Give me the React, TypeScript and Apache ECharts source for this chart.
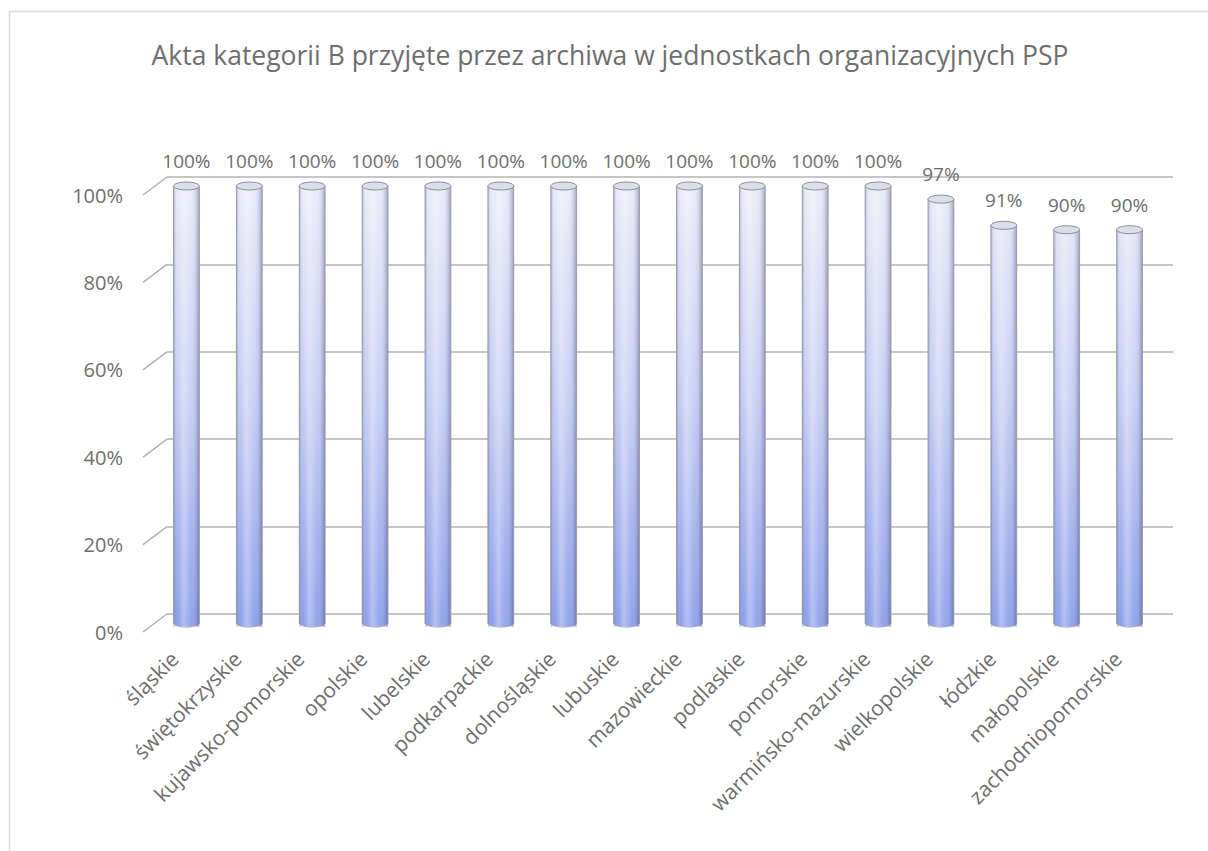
import React, { useEffect, useRef } from "react";
import * as echarts from "echarts";

const categories = [
  "śląskie",
  "świętokrzyskie",
  "kujawsko-pomorskie",
  "opolskie",
  "lubelskie",
  "podkarpackie",
  "dolnośląskie",
  "lubuskie",
  "mazowieckie",
  "podlaskie",
  "pomorskie",
  "warmińsko-mazurskie",
  "wielkopolskie",
  "łódzkie",
  "małopolskie",
  "zachodniopomorskie",
];
const values = [100, 100, 100, 100, 100, 100, 100, 100, 100, 100, 100, 100, 97, 91, 90, 90];
const yTicks = [0, 20, 40, 60, 80, 100];
const titleText = "Akta kategorii B przyjęte przez archiwa w jednostkach organizacyjnych PSP";

const FONT = "'Open Sans', sans-serif";
const TXT = "#6e6e6e";

const BACK = { left: 167, top: 177, width: 1006, height: 437 };
const MID = { left: 155, top: 186, width: 1006, height: 437 };
const FRONT = { left: 143, top: 195, width: 1006, height: 437 };

export default function App() {
  const ref = useRef<HTMLDivElement>(null);
  useEffect(() => {
    if (!ref.current) return;
    const chart = echarts.init(ref.current, null, { renderer: "svg" });
    const yAx = (idx: number, extra: any) => ({
      type: "value",
      gridIndex: idx,
      min: 0,
      max: 100,
      interval: 20,
      axisLine: { show: false },
      axisTick: { show: false },
      axisLabel: { show: false },
      splitLine: { show: false },
      ...extra,
    });
    const xAx = (idx: number, extra: any) => ({
      type: "category",
      gridIndex: idx,
      data: categories,
      axisLine: { show: false },
      axisTick: { show: false },
      axisLabel: { show: false },
      splitLine: { show: false },
      ...extra,
    });
    const bodyGrad = () =>
      new echarts.graphic.LinearGradient(
        0,
        MID.top,
        0,
        MID.top + MID.height,
        [
          { offset: 0, color: "#ebeaf8" },
          { offset: 0.5, color: "#c4ccf3" },
          { offset: 1, color: "#8b9eea" },
        ],
        true
      );
    const shade = () =>
      new echarts.graphic.LinearGradient(0, 0, 1, 0, [
        { offset: 0, color: "rgba(70,70,110,0.35)" },
        { offset: 0.15, color: "rgba(255,255,255,0.0)" },
        { offset: 0.4, color: "rgba(255,255,255,0.35)" },
        { offset: 0.7, color: "rgba(255,255,255,0.05)" },
        { offset: 1, color: "rgba(50,50,100,0.4)" },
      ]);

    chart.setOption({
      animation: false,
      title: {
        text: titleText,
        left: 605,
        textAlign: "center",
        top: 36,
        textStyle: { fontFamily: FONT, fontSize: 26.5, fontWeight: "normal", color: TXT },
      },
      grid: [
        { ...BACK, containLabel: false },
        { ...MID, containLabel: false },
        { ...FRONT, containLabel: false },
      ],
      xAxis: [
        xAx(0, {}),
        xAx(1, {}),
        xAx(2, {
          axisLabel: {
            show: true,
            interval: 0,
            rotate: 45,
            margin: 23,
            color: TXT,
            fontFamily: FONT,
            fontSize: 21,
          },
        }),
      ],
      yAxis: [
        yAx(0, { splitLine: { show: true, lineStyle: { color: "#b3b3b3", width: 1.5 } } }),
        yAx(1, {}),
        yAx(2, {
          axisLabel: {
            show: true,
            margin: 20,
            color: TXT,
            fontFamily: FONT,
            fontSize: 20,
            formatter: "{value}%",
          },
        }),
      ],
      series: [
        {
          type: "custom",
          xAxisIndex: 1,
          yAxisIndex: 1,
          data: values.map((v, i) => [i, v]),
          renderItem: (params: any, api: any) => {
            const i = api.value(0);
            const v = api.value(1);
            const top = api.coord([i, v]);
            const base = api.coord([i, 0]);
            const bw = api.size([1, 0])[0] * 0.41;
            const cx = top[0];
            const rx = bw / 2;
            const ry = 4;
            return {
              type: "group",
              children: [
                {
                  type: "ellipse",
                  shape: { cx, cy: base[1], rx, ry },
                  style: { fill: bodyGrad(), stroke: "#9aa0c0", lineWidth: 1 },
                },
                {
                  type: "rect",
                  shape: { x: cx - rx, y: top[1], width: bw, height: base[1] - top[1] },
                  style: { fill: bodyGrad() },
                },
                {
                  type: "rect",
                  shape: { x: cx - rx, y: top[1], width: bw, height: base[1] - top[1] + ry },
                  style: { fill: shade() },
                },
                {
                  type: "line",
                  shape: { x1: cx - rx, y1: top[1], x2: cx - rx, y2: base[1] },
                  style: { stroke: "#9a9cab", lineWidth: 1 },
                },
                {
                  type: "line",
                  shape: { x1: cx + rx, y1: top[1], x2: cx + rx, y2: base[1] },
                  style: { stroke: "#9a9cab", lineWidth: 1 },
                },
                {
                  type: "ellipse",
                  shape: { cx, cy: top[1], rx, ry },
                  style: { fill: "#dcdeee", stroke: "#8c8c8c", lineWidth: 1 },
                },
                {
                  type: "text",
                  x: cx,
                  y: top[1] - 25,
                  style: {
                    text: v + "%",
                    fill: TXT,
                    font: `19px ${FONT}`,
                    align: "center",
                    verticalAlign: "middle",
                  },
                },
              ],
            };
          },
        },
      ],
    });

    const graphics: any[] = [
      {
        type: "rect",
        shape: { x: 9.5, y: 11.5, width: 1300, height: 900 },
        style: { fill: "none", stroke: "#d9d9d9", lineWidth: 1.5 },
        silent: true,
      },
    ];
    yTicks.forEach((t) => {
      const yb = chart.convertToPixel({ yAxisIndex: 0 }, t) as number;
      const yf = chart.convertToPixel({ yAxisIndex: 2 }, t) as number;
      graphics.push({
        type: "line",
        shape: { x1: FRONT.left, y1: yf, x2: BACK.left, y2: yb },
        style: { stroke: "#b3b3b3", lineWidth: 1.5 },
        silent: true,
      });
    });
    chart.setOption({ graphic: graphics });

    return () => chart.dispose();
  }, []);
  return (
    <div
      ref={ref}
      style={{ position: "fixed", left: 0, top: 0, width: 1208, height: 851, background: "#fff" }}
    />
  );
}
